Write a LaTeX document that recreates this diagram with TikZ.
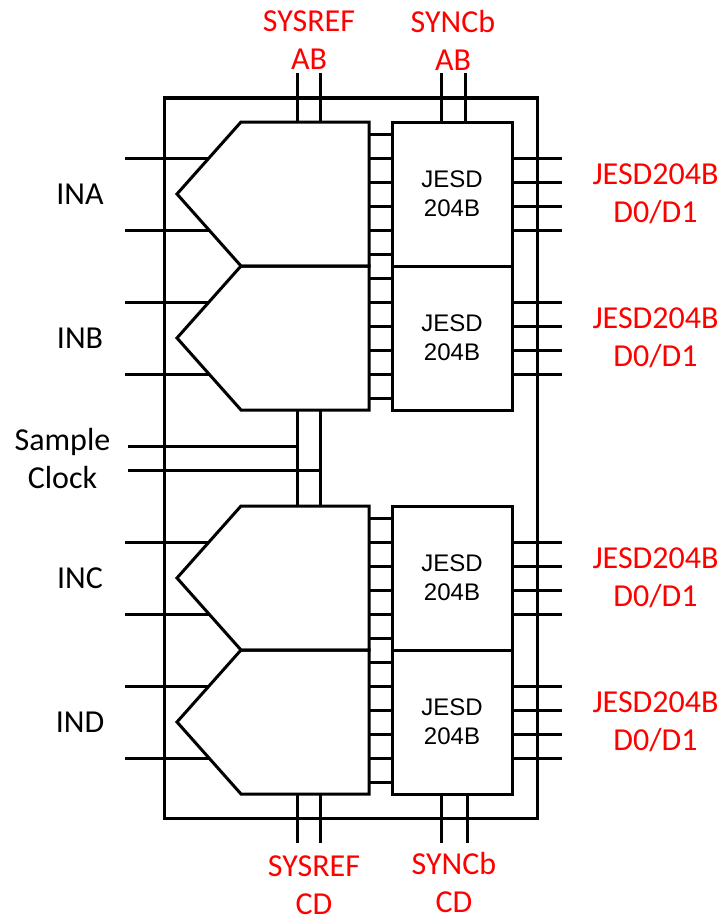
\documentclass[tikz,border=0pt]{standalone}
\usepackage{xcolor}
\usepackage{fontspec}
\setmainfont{Carlito}
\newfontfamily\arialfont{Liberation Sans}
\usetikzlibrary{positioning, calc}

\tikzset{
    wire/.style={line width=2.25pt},
    jesdbox/.style={draw, line width=2.25pt, minimum width=90pt, minimum height=108pt, outer sep=0pt, inner sep=0pt, align=center, font=\arialfont\fontsize{18}{22}\selectfont},
    inlabel/.style={align=center, inner sep=0pt, font=\fontsize{24}{28.5}\selectfont},
    redlabel/.style={inlabel, text=red}
}

\begin{document}
\begin{tikzpicture}[x=0.75pt, y=-0.75pt]
    \useasboundingbox (0,0) rectangle (722,917);
    \node[draw, line width=2.25pt, minimum width=279.5pt, minimum height=540pt, outer sep=0pt] (chip) at (350.75, 458) {};

    % converters with their framer blocks
    \foreach \name/\top/\inp in {A/122/INA, B/266/INB, C/506/INC, D/650/IND} {
        \coordinate (adc\name) at (177, \top+72);
        \coordinate (adc\name up) at (209, \top+36);
        \coordinate (adc\name low) at (209, \top+108);
        \coordinate (adc\name ne) at (369, \top);
        \draw[wire] (adc\name) -- (241, \top) -- (adc\name ne) -- (369, \top+144) -- (241, \top+144) -- cycle;
        \node[jesdbox] (jesd\name) at (452, \top+72) {JESD\\204B};
        \node[inlabel] (label\name) at (80, \top+72) {\inp};
        \node[redlabel] (out\name) at (655.5, \top+72) {JESD204B\\D0/D1};
        \coordinate (in\name up) at (125, \top+36);
        \coordinate (in\name low) at (125, \top+108);
        \draw[wire] (in\name up) -- (adc\name up);
        \draw[wire] (in\name low) -- (adc\name low);
        \foreach \i in {0,...,5} {
            \draw[wire] (369, \top+12+24*\i) -- (jesd\name.west |- 0, \top+12+24*\i);
        }
        \foreach \i in {0,...,3} {
            \coordinate (out\name\i) at (562, \top+36+24*\i);
            \draw[wire] (jesd\name.east |- out\name\i) -- (out\name\i);
        }
    }

    % clock
    \coordinate (clkA) at (128, 446);
    \coordinate (clkB) at (128, 470);
    \draw[wire] (297, 410) -- (297, 506);
    \draw[wire] (320, 410) -- (320, 506);
    \draw[wire] (clkA) -- (297, 446);
    \draw[wire] (clkB) -- (320, 470);
    \node[inlabel] (clklabel) at (62.5, 458.5) {Sample\\Clock};

    % sync and sysref pins
    \foreach \x in {297, 320} {
        \draw[wire] (\x, 73) -- (\x, 122);
        \draw[wire] (\x, 794) -- (\x, 843);
    }
    \foreach \x in {441, 465} {
        \draw[wire] (\x, 73) -- (\x, 122);
    }
    \foreach \x in {441, 467} {
        \draw[wire] (\x, 794) -- (\x, 843);
    }
    \node[redlabel] (sysrefAB) at (309, 40.5) {SYSREF\\AB};
    \node[redlabel] (syncAB) at (453, 40) {SYNCb\\AB};
    \node[redlabel] (sysrefCD) at (314, 885.5) {SYSREF\\CD};
    \node[redlabel] (syncCD) at (454, 882) {SYNCb\\CD};
\end{tikzpicture}
\end{document}
